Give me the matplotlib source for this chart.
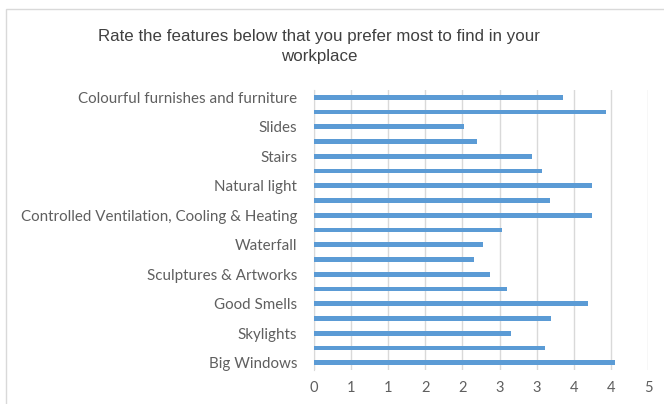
import matplotlib
matplotlib.use("Agg")
import matplotlib.pyplot as plt
from matplotlib.patches import Rectangle

# Categories bottom to top (hidden labels left blank as in the reference)
categories = [
    "Big Windows", "", "Skylights", "", "Good Smells", "",
    "Sculptures & Artworks", "", "Waterfall", "",
    "Controlled Ventilation, Cooling & Heating", "", "Natural light", "",
    "Stairs", "", "Slides", "", "Colourful furnishes and furniture",
]
values = [4.06, 3.11, 2.65, 3.19, 3.69, 2.60, 2.37, 2.15, 2.28, 2.53,
          3.74, 3.18, 3.74, 3.07, 2.94, 2.19, 2.02, 3.93, 3.36]
xticks = [0, 0.5, 1, 1.5, 2, 2.5, 3, 3.5, 4, 4.5]
xtick_labels = ["0", "1", "1", "2", "2", "3", "3", "4", "4", "5"]
title = "Rate the features below that you prefer most to find in your\nworkplace"

W, H = 664, 404
fig = plt.figure(figsize=(W / 100, H / 100), dpi=100)
fig.patch.set_facecolor("white")

# chart area border
fig.patches.append(Rectangle((6 / W, -0.1), 1.2, 1 - 9 / H + 0.1,
                             transform=fig.transFigure, fill=False,
                             edgecolor="#D9D9D9", linewidth=1.0))

ax = fig.add_axes([314 / W, 1 - 370 / H, (648 - 314) / W, (370 - 90) / H])
pos = list(range(len(categories)))
ax.barh(pos, values, height=0.32, color="#5B9BD5", zorder=3)
ax.set_ylim(-0.5, len(categories) - 0.5)
ax.set_xlim(0, 4.5)
ax.set_xticks(xticks)
ax.set_xticklabels(xtick_labels)
ax.set_yticks(pos)
ax.set_yticklabels(categories)
ax.grid(axis="x", color="#D9D9D9", linewidth=1.0, zorder=0)
for s in ["top", "right", "bottom"]:
    ax.spines[s].set_visible(False)
ax.spines["left"].set_color("#D9D9D9")
ax.tick_params(axis="both", length=0, labelcolor="#5f5f5f")
ax.tick_params(axis="y", pad=12)
ax.tick_params(axis="x", pad=8)
for lab in ax.get_yticklabels():
    lab.set_fontfamily("Lato")
    lab.set_fontsize(10.9)
for lab in ax.get_xticklabels():
    lab.set_fontfamily("Lato")
    lab.set_fontsize(10.5)

fig.text(319 / W, 1 - 46.5 / H, title, ha="center", va="center",
         fontsize=12.2, family="Liberation Sans", color="#404040",
         linespacing=1.5)

fig.savefig("out.png", dpi=100, facecolor="white")
